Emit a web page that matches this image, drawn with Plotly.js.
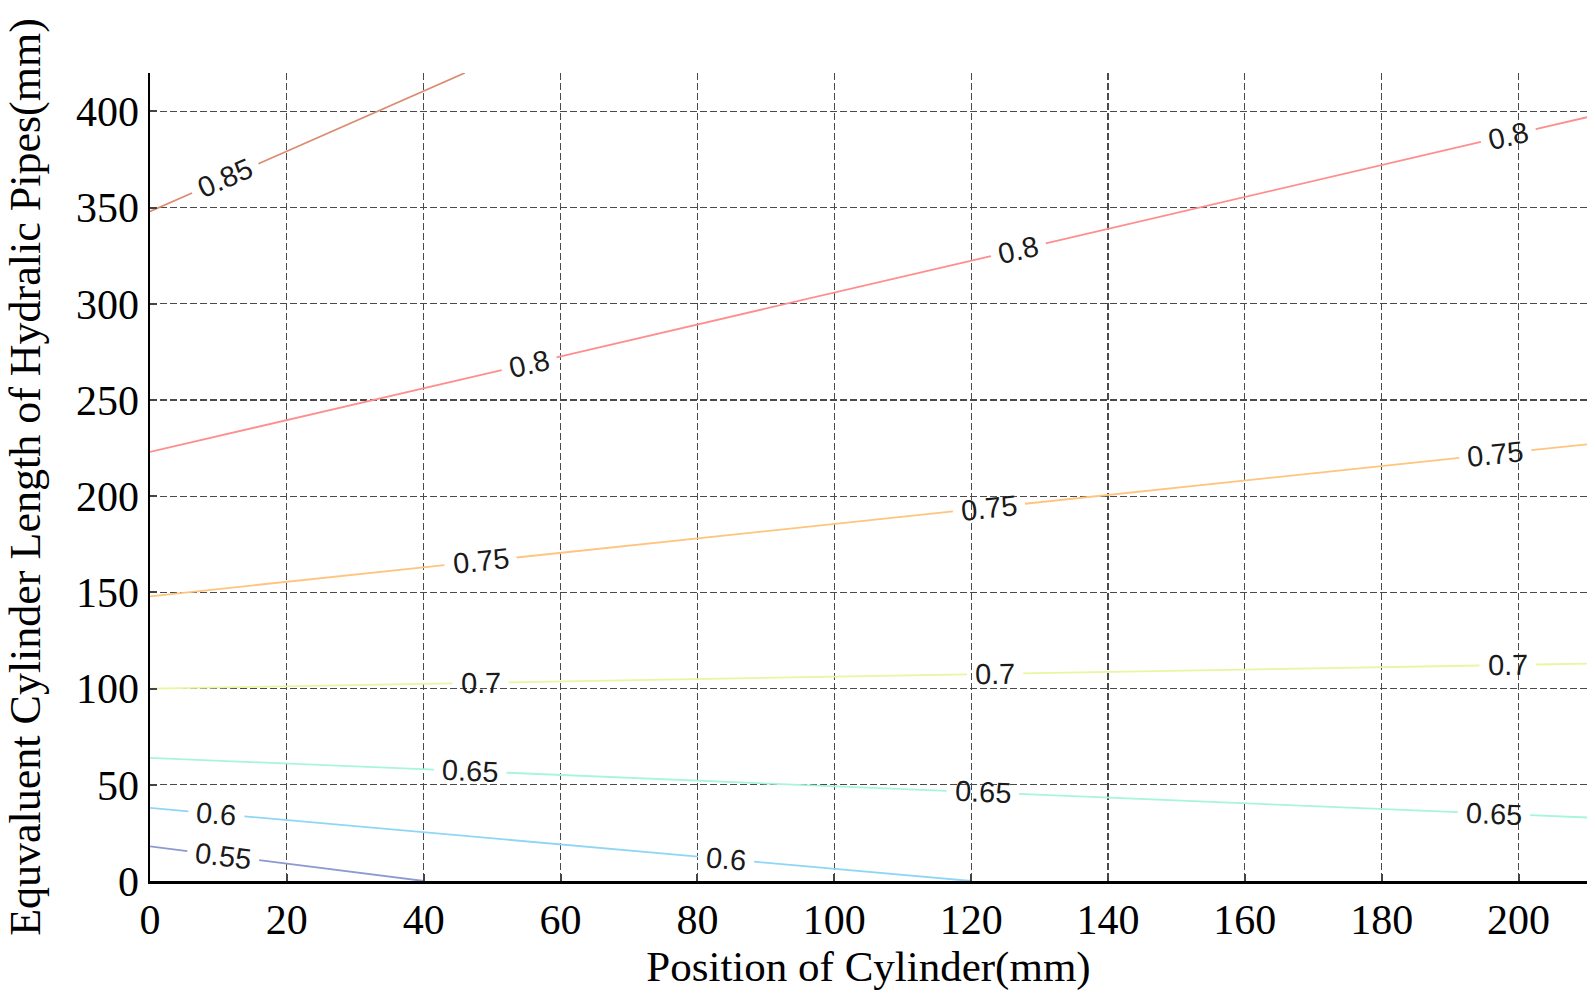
<!DOCTYPE html>
<html>
<head>
<meta charset="utf-8">
<script src="https://cdn.plot.ly/plotly-3.0.1.min.js"></script>
<style>html,body{margin:0;padding:0;background:#fff;}#chart{width:1595px;height:997px;}</style>
</head>
<body>
<div id="chart"></div>
<script>
// ---- Data ----
const levels = ['0.55', '0.6', '0.65', '0.7', '0.75', '0.8', '0.85'];
const lineX = [
  [0, 40],      // 0.55
  [0, 120],     // 0.6
  [0, 210],     // 0.65
  [0, 210],     // 0.7
  [0, 210],     // 0.75
  [0, 210],     // 0.8
  [0, 46]       // 0.85
];
const lineY = [
  [18, 0],
  [38, 0],
  [64, 33],
  [100, 113],
  [148, 227],
  [223, 397],
  [348, 420]
];
const labelX = [
  [10.7],
  [9.7, 84.2],
  [46.8, 121.7, 196.4],
  [48.3, 123.5, 198.4],
  [48.3, 122.6, 196.6],
  [55.4, 126.9, 198.5],
  [11]
];
const lineColors = ['#8c9ad0', '#8fd6f6', '#a6f5dc', '#e6f7a0', '#ffc47e', '#ff8e8e', '#dc8c70'];
const xTicks = [0, 20, 40, 60, 80, 100, 120, 140, 160, 180, 200];
const yTicks = [0, 50, 100, 150, 200, 250, 300, 350, 400];
const xRange = [0, 210];
const yRange = [0, 420];

// ---- Layout geometry ----
const W = 1595, H = 997;
const margin = {l: 150, r: 8, t: 73, b: 116};
const pxX = (W - margin.l - margin.r) / (xRange[1] - xRange[0]);
const pxY = (H - margin.t - margin.b) / (yRange[1] - yRange[0]);
const labelFont = 29;
const serif = 'Liberation Serif, Times New Roman, serif';

function interp(xs, ys, x) {
  for (let i = 0; i < xs.length - 1; i++) {
    if (x >= xs[i] && x <= xs[i + 1]) {
      const t = (x - xs[i]) / (xs[i + 1] - xs[i]);
      return ys[i] + t * (ys[i + 1] - ys[i]);
    }
  }
  return ys[ys.length - 1];
}

const traces = [];
const annotations = [];
levels.forEach((lv, k) => {
  const xs = lineX[k], ys = lineY[k];
  const dxp = (xs[xs.length - 1] - xs[0]) * pxX;
  const dyp = (ys[ys.length - 1] - ys[0]) * pxY;
  const ang = Math.atan2(dyp, dxp);
  const textW = (lv.length - 1) * 0.556 * labelFont + 0.278 * labelFont;
  const halfGap = (textW / 2 + 8) * Math.cos(ang) / pxX;
  const gaps = labelX[k].map(lx => [lx - halfGap, lx + halfGap]);
  const bps = new Set();
  xs.forEach(v => bps.add(v));
  gaps.forEach(g => { bps.add(g[0]); bps.add(g[1]); });
  const sorted = Array.from(bps).filter(v => v >= xs[0] && v <= xs[xs.length - 1]).sort((a, b) => a - b);
  const px = [], py = [];
  for (let i = 0; i < sorted.length - 1; i++) {
    const a = sorted[i], b = sorted[i + 1];
    const mid = (a + b) / 2;
    const inGap = gaps.some(g => mid > g[0] && mid < g[1]);
    if (inGap) { px.push(null); py.push(null); continue; }
    px.push(a, b); py.push(interp(xs, ys, a), interp(xs, ys, b));
  }
  traces.push({
    x: px, y: py, type: 'scatter', mode: 'lines', connectgaps: false,
    line: {color: lineColors[k], width: 1.8}, hoverinfo: 'skip', showlegend: false
  });
  labelX[k].forEach(lx => {
    annotations.push({
      x: lx, y: interp(xs, ys, lx), xref: 'x', yref: 'y', text: lv, showarrow: false,
      textangle: -ang * 180 / Math.PI,
      font: {family: 'Liberation Sans, Arial, sans-serif', size: labelFont, color: '#1a1a1a'}
    });
  });
});

const layout = {
  width: W, height: H,
  margin: margin,
  paper_bgcolor: '#ffffff', plot_bgcolor: '#ffffff',
  showlegend: false,
  xaxis: {
    range: xRange, tickvals: xTicks, ticktext: xTicks.map(String),
    showgrid: true, gridcolor: '#4a4a4a', gridwidth: 1.2, griddash: '7px,3px',
    zeroline: false, showline: true, linecolor: '#000000', linewidth: 2.5,
    ticks: 'inside', ticklen: 7, tickwidth: 2, tickcolor: '#444444',
    tickfont: {family: serif, size: 42, color: '#000'},
    title: {text: 'Position of Cylinder(mm)', standoff: 8,
      font: {family: serif, size: 43, color: '#000'}}
  },
  yaxis: {
    range: yRange, tickvals: yTicks, ticktext: yTicks.map(String),
    showgrid: true, gridcolor: '#4a4a4a', gridwidth: 1.2, griddash: '7px,3px',
    zeroline: false, showline: true, linecolor: '#000000', linewidth: 2.5,
    ticks: 'inside', ticklen: 7, tickwidth: 2, tickcolor: '#444444',
    tickfont: {family: serif, size: 42, color: '#000'},
    title: {text: 'Equvaluent Cylinder Length of Hydralic Pipes(mm)', standoff: 22,
      font: {family: serif, size: 44, color: '#000'}}
  },
  annotations: annotations
};

Plotly.newPlot('chart', traces, layout, {displayModeBar: false, staticPlot: true});
</script>
</body>
</html>
